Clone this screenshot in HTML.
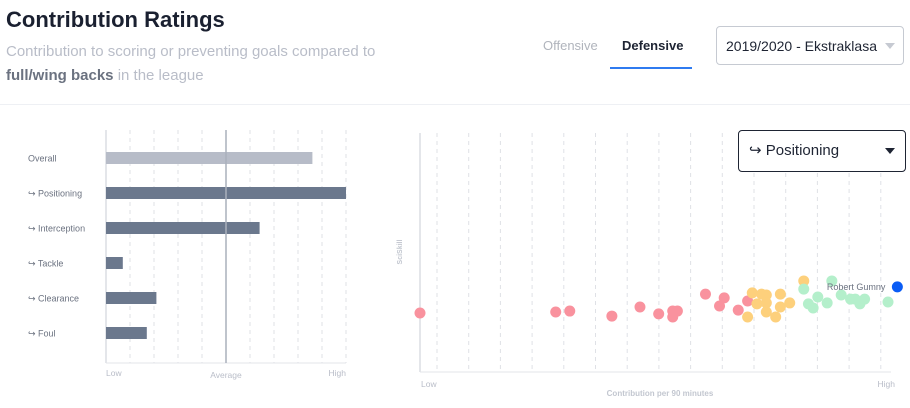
<!DOCTYPE html>
<html><head><meta charset="utf-8">
<style>
body{margin:0;width:910px;height:408px;background:#fff;font-family:"Liberation Sans",sans-serif;overflow:hidden;position:relative}
.a{position:absolute;white-space:nowrap}
</style></head><body>
<div class="a" style="left:6px;top:7px;font-size:22px;font-weight:bold;color:#1a2030">Contribution Ratings</div>
<div class="a" style="left:6px;top:40px;font-size:15px;color:#b9bdc8;line-height:24px">Contribution to scoring or preventing goals compared to<br><b style="color:#6b7280">full/wing backs</b> in the league</div>
<div class="a" style="left:543px;top:38px;font-size:13px;color:#b0b4bc">Offensive</div>
<div class="a" style="left:622px;top:38px;font-size:13px;font-weight:bold;color:#1e2433">Defensive</div>
<div class="a" style="left:610px;top:67px;width:82px;height:2px;background:#2f7bf0"></div>
<div class="a" style="left:716px;top:26px;width:188px;height:39px;border:1px solid #c6cad2;border-radius:4px;font-size:14px;color:#1e2433;line-height:39px;padding-left:9px;box-sizing:border-box">2019/2020 - Ekstraklasa<span style="position:absolute;right:8px;top:16px;border-left:5px solid transparent;border-right:5px solid transparent;border-top:6px solid #c6cad2"></span></div>
<div class="a" style="left:0;top:104px;width:910px;height:1px;background:#eef0f4"></div>
<div class="a" style="left:738px;top:130px;width:168px;height:42px;border:1px solid #1e2433;border-radius:4px;font-size:15px;color:#1e2433;line-height:40px;padding-left:10px;box-sizing:border-box;background:#fff;z-index:2">↪ Positioning<span style="position:absolute;right:10px;top:17px;border-left:5px solid transparent;border-right:5px solid transparent;border-top:6px solid #1e2433"></span></div>
<svg id="c" width="910" height="408" style="position:absolute;left:0;top:0" font-family="Liberation Sans, sans-serif"></svg>
<script>
const barLabels=["Overall","↪ Positioning","↪ Interception","↪ Tackle","↪ Clearance","↪ Foul"];
const barValues=[0.86,1.0,0.64,0.07,0.21,0.17];
const redX=[0.00,0.29,0.32,0.41,0.47,0.51,0.54,0.55,0.54,0.61,0.65,0.64,0.70,0.68];
const redY=[24.7,25.1,25.5,23.4,27.2,24.3,25.5,25.5,23.0,32.6,31.0,27.6,29.7,25.9];
const orangeX=[0.70,0.71,0.73,0.74,0.72,0.74,0.74,0.76,0.77,0.77,0.79,0.82];
const orangeY=[23.0,33.1,32.6,32.2,28.5,28.9,25.1,23.0,32.6,27.2,28.9,38.1];
const greenX=[0.82,0.83,0.84,0.85,0.87,0.88,0.90,0.92,0.93,0.94,0.95,1.00];
const greenY=[34.7,28.5,26.8,31.4,28.9,38.1,32.2,30.5,30.5,28.5,30.5,29.3];
const playerX=[1.02], playerY=[35.6], playerName=["Robert Gumny"];
const svg=document.getElementById('c');const NS='http://www.w3.org/2000/svg';
function mk(t,a,p){const e=document.createElementNS(NS,t);for(const k in a)e.setAttribute(k,a[k]);(p||svg).appendChild(e);return e;}
const bx=v=>106+v*240;
for(let i=1;i<=10;i++){if(i===5)continue;const g=mk('line',{x1:bx(i/10),x2:bx(i/10),y1:130,y2:363,stroke:'#dfe1e6','stroke-dasharray':'4,4'});}
let ax=mk('line',{x1:106,x2:106,y1:130,y2:363,stroke:'#c9ccd4'});
ax=mk('line',{x1:106,x2:346,y1:363,y2:363,stroke:'#e3e5ea'});
barLabels.forEach((l,i)=>{const cy=158+i*35;
const r=mk('rect',{x:106,y:cy-6,width:bx(barValues[i])-106,height:12,fill:i===0?'#b7bcc8':'#6b788d'});
const t=mk('text',{x:28,y:cy+3.5,'font-size':9,fill:'#6b7280'});t.textContent=l;});
ax=mk('line',{x1:bx(0.5),x2:bx(0.5),y1:130,y2:363,stroke:'#aab0bc','stroke-width':1.5});
[["Low",106,'start',376],["Average",226,'middle',378],["High",346,'end',376]].forEach(a=>{const t=mk('text',{x:a[1],y:a[3],'text-anchor':a[2],'font-size':8.5,fill:'#b9bdc8'});t.textContent=a[0];});
const sx=v=>420+v*468, sy=v=>372-v*2.39;
for(let i=0;i<15;i++){const x=437+i*31.7;const g=mk('line',{x1:x,x2:x,y1:133,y2:372,stroke:'#dfe1e6','stroke-dasharray':'4,4'});}
ax=mk('line',{x1:420,x2:420,y1:133,y2:372,stroke:'#c9ccd4'});
ax=mk('line',{x1:420,x2:891,y1:372,y2:372,stroke:'#e3e5ea'});
function pts(X,Y,col,nm){X.forEach((x,i)=>{const c=mk('circle',{cx:sx(x),cy:sy(Y[i]),r:5.5,fill:col});});}
pts(redX,redY,'#f9929e','player-dot-low');pts(orangeX,orangeY,'#fdd07c','player-dot-mid');pts(greenX,greenY,'#b4efcb','player-dot-high');
let t=mk('text',{x:sx(playerX[0])-12,y:sy(playerY[0])+3,'text-anchor':'end','font-size':9,fill:'#6b7280'});t.textContent=playerName[0];
pts(playerX,playerY,'#0a5cf5','selected-player-dot');
[["Low",421,'start'],["High",895,'end']].forEach(a=>{const t=mk('text',{x:a[1],y:387,'text-anchor':a[2],'font-size':8.5,fill:'#b9bdc8'});t.textContent=a[0];});
t=mk('text',{x:660,y:396,'text-anchor':'middle','font-size':8,'font-weight':'bold',fill:'#c3c7d0'});t.textContent='Contribution per 90 minutes';
t=mk('text',{x:402,y:252,'text-anchor':'middle','font-size':7,'font-weight':'bold',fill:'#c3c7d0',transform:'rotate(-90 402 252)'});t.textContent='SciSkill';
</script>
</body></html>
